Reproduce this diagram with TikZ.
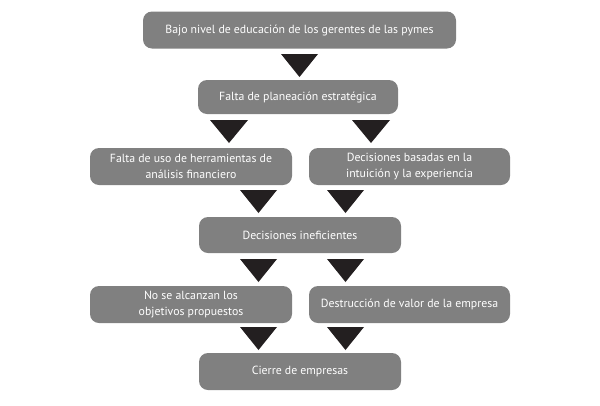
\documentclass[tikz,border=0pt]{standalone}
\usepackage{fontspec}
\setmainfont{PT Sans}
\begin{document}
\begin{tikzpicture}[x=1pt,y=-1pt,
  box/.style={fill=boxgray, rounded corners=9pt, inner sep=0pt, text=white,
    font=\fontsize{11.8}{15.5}\selectfont, align=center, minimum height=37pt},
  tri/.style={fill=trigray}]
\definecolor{boxgray}{HTML}{808080}
\definecolor{trigray}{HTML}{231F20}
\useasboundingbox (0,0) rectangle (600,405);
\node[box, minimum width=313pt] (b1) at (299.5,30) {Bajo nivel de educación de los gerentes de las pymes};
\node[box, minimum width=200pt, minimum height=34pt] (b2) at (298,97) {Falta de planeación estratégica};
\node[box, minimum width=202pt] (b3l) at (191,166.5) {Falta de uso de herramientas de\\análisis financiero};
\node[box, minimum width=201pt] (b3r) at (409.5,166.5) {Decisiones basadas en la\\intuición y la experiencia};
\node[box, minimum width=202pt, minimum height=36pt] (b4) at (300,235) {Decisiones ineficientes};
\node[box, minimum width=202pt] (b5l) at (191,304.5) {No se alcanzan los\\objetivos propuestos};
\node[box, minimum width=201pt] (b5r) at (409.5,304.5) {Destrucción de valor de la empresa};
\node[box, minimum width=202pt] (b6) at (300,371.5) {Cierre de empresas};
% triangles
\fill[tri] (281,54) -- (318,54) -- (299.5,77) -- cycle;
\fill[tri] (210,120) -- (248,120) -- (229,143) -- cycle;
\fill[tri] (352,120) -- (390,120) -- (371,143) -- cycle;
\fill[tri] (240,190) -- (277,190) -- (258.5,213) -- cycle;
\fill[tri] (327,190) -- (364,190) -- (345.5,213) -- cycle;
\fill[tri] (240,259) -- (277,259) -- (258.5,282) -- cycle;
\fill[tri] (327,259) -- (364,259) -- (345.5,282) -- cycle;
\fill[tri] (240,327) -- (277,327) -- (258.5,350) -- cycle;
\fill[tri] (327,327) -- (364,327) -- (345.5,350) -- cycle;
\end{tikzpicture}
\end{document}
